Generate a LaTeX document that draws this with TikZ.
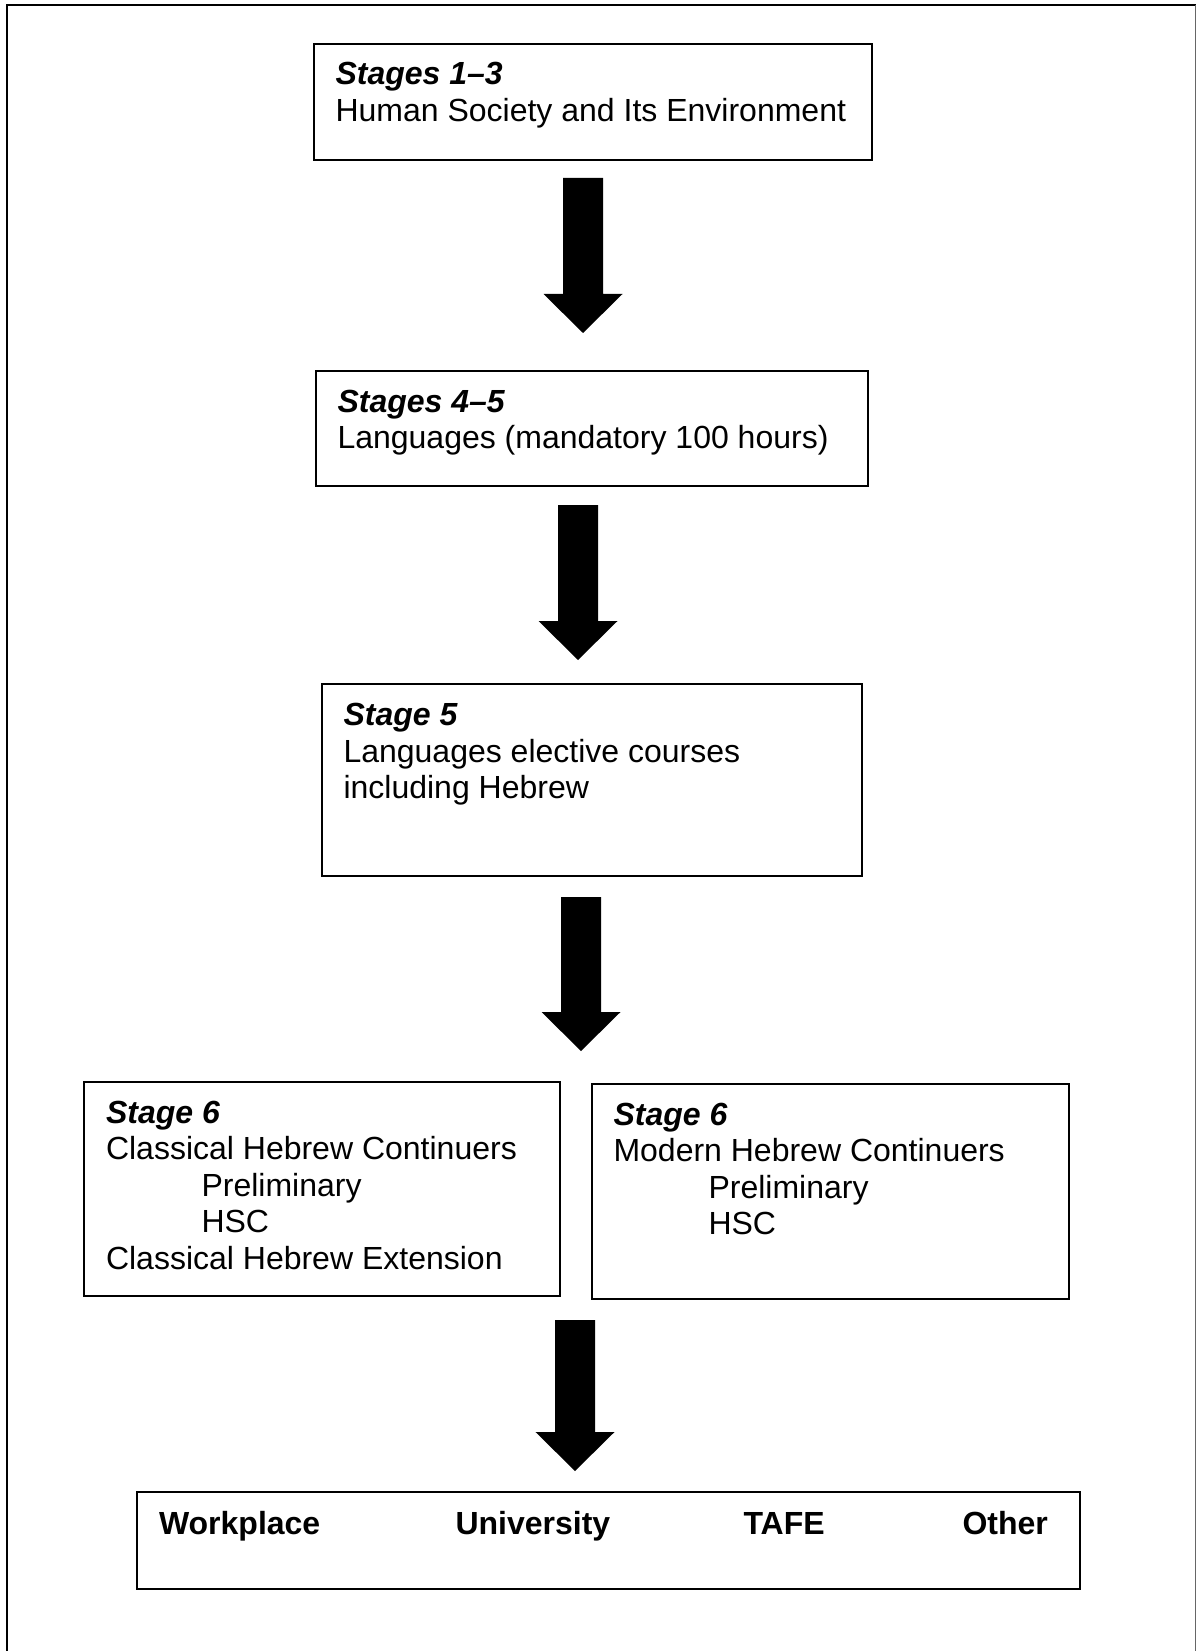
\documentclass[tikz,border=0pt]{standalone}
\usepackage{fontspec}
\setmainfont{Liberation Sans}
\usetikzlibrary{fit}
\tikzset{
  stagebox/.style={draw, line width=0.55pt, inner sep=0pt, rectangle},
  txt/.style={anchor=base west, inner sep=0pt, yshift=-0.75pt, font=\fontsize{12}{14}\selectfont},
  ttl/.style={txt, font=\fontsize{12}{14}\selectfont\bfseries\itshape},
  dest/.style={txt, font=\fontsize{12}{14}\selectfont\bfseries},
  pics/blockarrow/.style={code={
    \fill (-20,0) -- (20,0) -- (20,#1) -- (39.5,#1) -- (0,#1+39) -- (-39.5,#1) -- (-20,#1) -- cycle;
  }}
}
\begin{document}
\begin{tikzpicture}[x=0.375pt, y=-0.375pt]
\useasboundingbox (0,0) rectangle (1197,1651);
% outer frame
\draw[line width=0.75pt] (6.5,1651) -- (6.5,5.5) -- (1195.5,5.5);
\draw[line width=0.4pt, black!60] (1195.5,5.5) -- (1195.5,1651);

% boxes
\node[stagebox, fit={(314,44) (872,160)}] (b1) {};
\node[stagebox, fit={(316,371) (868,486)}] (b2) {};
\node[stagebox, fit={(322,684) (862,876)}] (b3) {};
\node[stagebox, fit={(84,1082) (560,1296)}] (b4l) {};
\node[stagebox, fit={(592,1084) (1069,1299)}] (b4r) {};
\node[stagebox, fit={(137,1492) (1080,1589)}] (b5) {};

% box 1 text
\node[ttl] (t1a) at (335,83) {Stages 1–3};
\node[txt] (t1b) at (335,119.5) {Human Society and Its Environment};
% box 2 text
\node[ttl] (t2a) at (337,410.5) {Stages 4–5};
\node[txt] (t2b) at (337,446.5) {Languages (mandatory 100 hours)};
% box 3 text
\node[ttl] (t3a) at (343,723) {Stage 5};
\node[txt] (t3b) at (343,760) {Languages elective courses};
\node[txt] (t3c) at (343,796) {including Hebrew};
% box 4 left text
\node[ttl] (t4a) at (105.5,1121) {Stage 6};
\node[txt] (t4b) at (105.5,1157.5) {Classical Hebrew Continuers};
\node[txt] (t4c) at (201,1194) {Preliminary};
\node[txt] (t4d) at (201,1230.5) {HSC};
\node[txt] (t4e) at (105.5,1267) {Classical Hebrew Extension};
% box 4 right text
\node[ttl] (t5a) at (613,1123) {Stage 6};
\node[txt] (t5b) at (613,1159.5) {Modern Hebrew Continuers};
\node[txt] (t5c) at (708,1196) {Preliminary};
\node[txt] (t5d) at (708,1232.5) {HSC};
% box 5 text
\node[dest] (d1) at (158.5,1532) {Workplace};
\node[dest] (d2) at (455,1532) {University};
\node[dest] (d3) at (743,1532) {TAFE};
\node[dest] (d4) at (962,1532) {Other};

% block arrows
\coordinate (a1) at (583,178);
\coordinate (a2) at (578,505);
\coordinate (a3) at (581,897);
\coordinate (a4) at (575,1320);
\pic at (a1) {blockarrow=116};
\pic at (a2) {blockarrow=116};
\pic at (a3) {blockarrow=115};
\pic at (a4) {blockarrow=112};
\end{tikzpicture}
\end{document}
